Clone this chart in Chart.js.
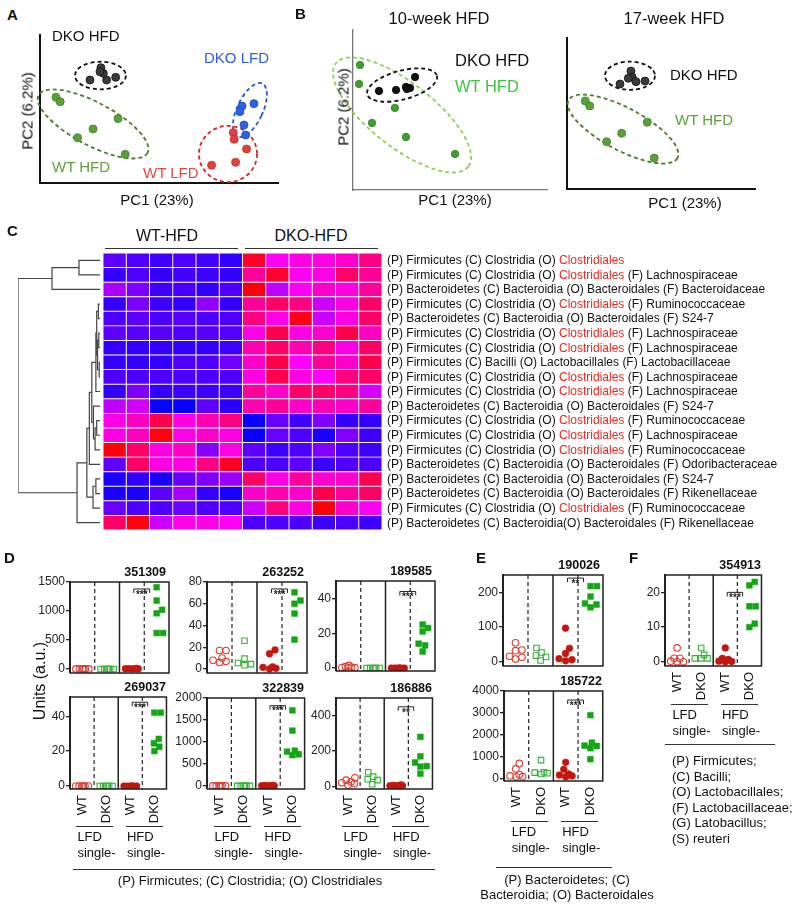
<!DOCTYPE html>
<html>
<head>
<meta charset="utf-8">
<script src="https://cdn.jsdelivr.net/npm/chart.js@4/dist/chart.umd.min.js"></script>
<style>
  html, body { margin: 0; padding: 0; background: #fff; }
  body { width: 800px; height: 907px; position: relative; overflow: hidden;
         font-family: 'Liberation Sans', Arial, Helvetica, sans-serif; color: #111; }
  canvas { position: absolute; }
  .t  { position: absolute; white-space: nowrap; line-height: 1; }
  .v  { writing-mode: vertical-rl; }
  .ln { position: absolute; height: 0; border-top: 1.4px solid #333; }
</style>
</head>
<body>
<script>
// ============================================================
// Microbiota figure — PCA (A, B), heatmap (C), OTU dot plots (D–F)
// ============================================================

// ---- A: PCA, all four groups (PC1, PC2 in arbitrary 0–10 units) ----
const aDkoHfd = [[2.10, 6.96], [2.56, 7.79], [2.66, 7.41], [2.80, 6.96], [3.18, 7.14], [2.52, 7.52]];
const aWtHfd  = [[0.67, 5.79], [0.85, 5.49], [3.28, 4.35], [2.23, 3.65], [1.58, 3.06], [3.58, 1.94]];
const aDkoLfd = [[8.49, 5.20], [8.99, 5.36], [8.40, 4.82], [8.57, 3.92], [8.64, 3.24]];
const aWtLfd  = [[8.12, 3.40], [8.16, 2.95], [8.68, 2.30], [8.22, 1.40], [7.21, 1.20]];

// ---- B: PCA, HFD only, 10 and 17 weeks ----
const b10DkoHfd = [[1.34, 6.19], [2.22, 6.25], [2.73, 6.44], [2.94, 6.38], [3.20, 7.06], [2.78, 6.31]];
const b10WtHfd  = [[0.36, 7.81], [0.31, 6.63], [2.16, 5.13], [0.98, 4.19], [2.73, 3.31], [5.26, 2.25]];
const b17DkoHfd = [[2.82, 6.95], [3.40, 7.81], [3.47, 7.40], [3.67, 7.11], [4.15, 7.15], [3.26, 7.33]];
const b17WtHfd  = [[0.97, 5.83], [1.21, 5.50], [2.91, 3.69], [2.11, 3.13], [4.27, 4.42], [4.64, 2.05]];

// ---- C: heatmap (0 = blue, 0.5 = magenta, 1 = red), rows top to bottom ----
const rowLabels = [
  '(P) Firmicutes (C) Clostridia (O) Clostridiales',
  '(P) Firmicutes (C) Clostridia (O) Clostridiales (F) Lachnospiraceae',
  '(P) Bacteroidetes (C) Bacteroidia (O) Bacteroidales (F) Bacteroidaceae',
  '(P) Firmicutes (C) Clostridia (O) Clostridiales (F) Ruminococcaceae',
  '(P) Bacteroidetes (C) Bacteroidia (O) Bacteroidales (F) S24-7',
  '(P) Firmicutes (C) Clostridia (O) Clostridiales (F) Lachnospiraceae',
  '(P) Firmicutes (C) Clostridia (O) Clostridiales (F) Lachnospiraceae',
  '(P) Firmicutes (C) Bacilli (O) Lactobacillales (F) Lactobacillaceae',
  '(P) Firmicutes (C) Clostridia (O) Clostridiales (F) Lachnospiraceae',
  '(P) Firmicutes (C) Clostridia (O) Clostridiales (F) Lachnospiraceae',
  '(P) Bacteroidetes (C) Bacteroidia (O) Bacteroidales (F) S24-7',
  '(P) Firmicutes (C) Clostridia (O) Clostridiales (F) Ruminococcaceae',
  '(P) Firmicutes (C) Clostridia (O) Clostridiales (F) Lachnospiraceae',
  '(P) Firmicutes (C) Clostridia (O) Clostridiales (F) Ruminococcaceae',
  '(P) Bacteroidetes (C) Bacteroidia (O) Bacteroidales (F) Odoribacteraceae',
  '(P) Bacteroidetes (C) Bacteroidia (O) Bacteroidales (F) S24-7',
  '(P) Bacteroidetes (C) Bacteroidia (O) Bacteroidales (F) Rikenellaceae',
  '(P) Firmicutes (C) Clostridia (O) Clostridiales (F) Ruminococcaceae',
  '(P) Bacteroidetes (C) Bacteroidia(O) Bacteroidales (F) Rikenellaceae',
];
const HIGHLIGHT = 'Clostridiales';

const wtHfdCells = [
  [0.18, 0.15, 0.12, 0.15, 0.13, 0.10],
  [0.10, 0.15, 0.10, 0.13, 0.12, 0.10],
  [0.33, 0.24, 0.12, 0.14, 0.10, 0.15],
  [0.10, 0.24, 0.12, 0.10, 0.28, 0.10],
  [0.15, 0.18, 0.15, 0.17, 0.15, 0.15],
  [0.18, 0.17, 0.17, 0.15, 0.17, 0.16],
  [0.10, 0.10, 0.10, 0.10, 0.10, 0.12],
  [0.10, 0.10, 0.10, 0.15, 0.15, 0.22],
  [0.15, 0.15, 0.15, 0.15, 0.15, 0.15],
  [0.10, 0.25, 0.10, 0.12, 0.12, 0.12],
  [0.37, 0.41, 0.01, 0.01, 0.18, 0.08],
  [0.55, 0.62, 0.85, 0.55, 0.65, 0.75],
  [0.55, 0.62, 0.97, 0.55, 0.60, 0.55],
  [0.98, 0.80, 0.55, 0.62, 0.26, 0.55],
  [0.18, 0.80, 0.55, 0.55, 0.75, 0.93],
  [0.05, 0.10, 0.05, 0.20, 0.25, 0.30],
  [0.05, 0.05, 0.18, 0.33, 0.10, 0.05],
  [0.20, 0.15, 0.15, 0.20, 0.15, 0.15],
  [0.80, 0.97, 0.40, 0.55, 0.55, 0.52],
];
const dkoHfdCells = [
  [0.92, 0.52, 0.55, 0.55, 0.60, 0.75],
  [0.70, 0.90, 0.52, 0.55, 0.80, 0.70],
  [0.98, 0.38, 0.52, 0.60, 0.55, 0.70],
  [0.70, 0.80, 0.75, 0.40, 0.55, 0.80],
  [0.75, 0.55, 0.95, 0.40, 0.55, 0.80],
  [0.55, 0.85, 0.55, 0.60, 0.85, 0.62],
  [0.65, 0.80, 0.65, 0.75, 0.55, 0.80],
  [0.60, 0.85, 0.50, 0.70, 0.60, 0.85],
  [0.55, 0.85, 0.55, 0.50, 0.75, 0.80],
  [0.70, 0.60, 0.80, 0.80, 0.75, 0.42],
  [0.65, 0.70, 0.60, 0.65, 0.60, 0.70],
  [0.02, 0.20, 0.12, 0.25, 0.10, 0.10],
  [0.02, 0.20, 0.15, 0.05, 0.25, 0.12],
  [0.18, 0.12, 0.15, 0.25, 0.15, 0.12],
  [0.15, 0.15, 0.18, 0.12, 0.15, 0.15],
  [0.80, 0.55, 0.70, 0.60, 0.60, 0.85],
  [0.60, 0.65, 0.60, 0.85, 0.70, 0.80],
  [0.40, 0.75, 0.55, 0.98, 0.60, 0.52],
  [0.15, 0.15, 0.15, 0.12, 0.15, 0.12],
];

// dendrogram merges: [childA, childB, height]; leaves are rows 0–18, merges get ids 19, 20, ...
const dendroLinks = [
  [0, 1, 0.256], [19, 2, 0.585],
  [3, 4, 0.02], [5, 6, 0.015], [7, 8, 0.01], [22, 23, 0.03], [21, 24, 0.04], [25, 9, 0.05],
  [11, 12, 0.04], [27, 13, 0.06], [10, 28, 0.08], [26, 29, 0.10], [30, 14, 0.13],
  [15, 16, 0.05], [32, 17, 0.085], [31, 33, 0.16], [34, 18, 0.28],
  [20, 35, 1.0],
];

// ---- D/E/F: OTU abundance, groups = WT LFD, DKO LFD, WT HFD, DKO HFD ----
const GROUP_LABELS = ['WT', 'DKO', 'WT', 'DKO'];
const otu351309 = [[0, 0, 0, 0, 0, 0], [0, 0, 0, 0, 0, 0], [3, 6, 0, 2, 8, 4], [1410, 1180, 1020, 960, 620, 620]];
const otu263252 = [[17, 17, 10, 8, 6, 7], [26, 9.5, 5.5, 3.4, 4.5], [17.5, 14, 2, 0.6, 1.5, 0], [70.5, 63, 60, 51, 27]];
const otu189585 = [[1.5, 0.5, 0, 0.8, 0.2, 0.3], [0, 0, 0, 0, 0, 0], [0, 0, 0, 0, 0, 0], [25, 23, 21, 14, 13, 9.5]];
const otu269037 = [[0, 0, 0, 0, 0, 0], [0, 0, 0, 0, 0, 0], [0, 0, 0, 0, 0, 0], [42, 42, 27, 24.5, 22.5, 20]];
const otu322839 = [[0, 0, 0, 0, 0, 0], [0, 0, 0, 0, 0, 0], [5, 10, 0, 8, 3, 12], [1720, 1260, 800, 780, 720, 700]];
const otu186886 = [[48, 35, 25, 15, 8, 20], [80, 55, 40, 35, 12], [8, 5, 3, 2, 6, 4], [280, 170, 135, 115, 112, 72]];
const otu190026 = [[55, 34, 32, 8, 16, 13], [40, 27, 18, 14, 4], [97, 39, 24, 9, 3, 6], [218, 218, 188, 168, 165, 157]];
const otu185722 = [[710, 460, 200, 110, 140, 100], [860, 310, 290, 230, 260], [760, 440, 230, 140, 180, 100], [2900, 1650, 1520, 1500, 1400, 900]];
const otu354913 = [[4, 1, 1, 0, 0, 0.2], [4, 2, 1, 1, 1], [4, 1, 0.7, 0.2, 0, 0.1], [22, 23, 16, 16, 11, 10]];

// ============================================================
const FONT = "'Liberation Sans', Arial, Helvetica, sans-serif";
Chart.defaults.font.family = FONT;
Chart.defaults.color = '#111';
Chart.defaults.animation = false;
Chart.defaults.responsive = false;
Chart.defaults.events = [];
Chart.defaults.plugins.legend.display = false;
Chart.defaults.plugins.tooltip.enabled = false;

function addCanvas(x, y, w, h) {
  const c = document.createElement('canvas');
  c.width = w; c.height = h;
  Object.assign(c.style, { left: x + 'px', top: y + 'px', width: w + 'px', height: h + 'px' });
  document.body.appendChild(c);
  return c;
}

function addText(txt, x, y, o = {}) {
  const d = document.createElement('div');
  d.className = o.rotate ? 't v' : 't';
  d.textContent = txt;
  d.style.left = x + 'px';
  d.style.top = y + 'px';
  d.style.fontSize = (o.size || 13) + 'px';
  if (o.bold) d.style.fontWeight = 'bold';
  if (o.color) d.style.color = o.color;
  const ax = o.align === 'center' ? '-50%' : o.align === 'right' ? '-100%' : '0';
  // vertical text: written top-down, turned half a turn so it reads bottom-up
  d.style.transform = o.rotate ? 'translate(-50%,-50%) rotate(180deg)' : `translate(${ax},-50%)`;
  document.body.appendChild(d);
}

function addLine(x1, x2, y) {
  const d = document.createElement('div');
  d.className = 'ln';
  Object.assign(d.style, { left: x1 + 'px', top: y + 'px', width: (x2 - x1) + 'px' });
  document.body.appendChild(d);
}

// ---- PCA panels ----

const ellipsePlugin = {
  id: 'ellipses',
  beforeDatasetsDraw(chart, args, opts) {
    const { ctx, scales: { x, y } } = chart;
    const ux = Math.abs(x.getPixelForValue(1) - x.getPixelForValue(0));
    (opts.items || []).forEach(e => {
      ctx.save();
      ctx.beginPath();
      ctx.ellipse(x.getPixelForValue(e.cx), y.getPixelForValue(e.cy), e.rx * ux, e.ry * ux,
                  e.rot * Math.PI / 180, 0, Math.PI * 2);
      ctx.setLineDash([4, 3]);
      ctx.lineWidth = 1.8;
      ctx.strokeStyle = e.color;
      ctx.stroke();
      ctx.restore();
    });
  },
};

function pcaChart(area, groups, ellipses, axis) {
  const pad = { left: 25, top: 10, right: 10, bottom: 10 };
  const [x0, x1, y0, y1] = area;
  const c = addCanvas(x0 - pad.left, y0 - pad.top, x1 - x0 + pad.left + pad.right, y1 - y0 + pad.top + pad.bottom);
  const hidden = {
    min: 0, max: 10,
    ticks: { display: false },
    grid:  { display: false, drawTicks: false },
    border: { color: axis.color, width: axis.width },
  };
  new Chart(c, {
    type: 'scatter',
    data: {
      datasets: groups.map(g => ({
        data: g.pts.map(([x, y]) => ({ x, y })),
        pointRadius: g.r,
        backgroundColor: g.color,
        borderColor: g.edge,
        borderWidth: 0.8,
      })),
    },
    options: {
      layout: { padding: pad },
      plugins: { ellipses: { items: ellipses } },
      scales: {
        x: { ...hidden, afterFit: s => { s.height = 0; } },
        y: { ...hidden, afterFit: s => { s.width = 0; } },
      },
    },
    plugins: [ellipsePlugin],
  });
}

pcaChart([40, 278, 35, 183], [
  { pts: aDkoHfd, color: '#3a3a3a', edge: '#111', r: 4 },
  { pts: aWtHfd,  color: '#5aa13a', edge: '#3f7f25', r: 4 },
  { pts: aDkoLfd, color: '#2e62e6', edge: '#1d47b8', r: 4 },
  { pts: aWtLfd,  color: '#e5403b', edge: '#c22a25', r: 4 },
], [
  { cx: 2.54, cy: 7.26, rx: 1.07, ry: 0.58, rot: 0,  color: '#111' },
  { cx: 2.23, cy: 3.99, rx: 2.59, ry: 0.90, rot: 28, color: '#4f7a2c' },
  { cx: 8.82, cy: 4.93, rx: 0.54, ry: 1.23, rot: 25, color: '#2255dd' },
  { cx: 7.90, cy: 1.96, rx: 1.22, ry: 1.18, rot: 0,  color: '#e02020' },
], { color: '#111', width: 2 });

pcaChart([353, 547, 30, 190], [
  { pts: b10WtHfd,  color: '#3f9e2f', edge: '#2f7d22', r: 3.7 },
  { pts: b10DkoHfd, color: '#111',    edge: '#000',    r: 3.7 },
], [
  { cx: 2.53, cy: 4.69, rx: 4.33, ry: 1.65, rot: 38,  color: '#8fd050' },
  { cx: 2.53, cy: 6.56, rx: 1.86, ry: 0.74, rot: -15, color: '#111' },
], { color: '#777', width: 1.3 });

pcaChart([567, 755, 38, 189], [
  { pts: b17DkoHfd, color: '#3a3a3a', edge: '#111',    r: 4 },
  { pts: b17WtHfd,  color: '#5aa13a', edge: '#3f7f25', r: 4 },
], [
  { cx: 3.35, cy: 7.50, rx: 1.33, ry: 0.75, rot: 0,  color: '#111' },
  { cx: 2.98, cy: 3.97, rx: 3.28, ry: 1.13, rot: 28, color: '#4f7a2c' },
], { color: '#111', width: 2 });

addText('A', 7, 14, { size: 15, bold: true });
addText('DKO HFD', 52, 35, { size: 15 });
addText('DKO LFD', 204, 57, { size: 15, color: '#2d5fe0' });
addText('WT HFD', 52, 166, { size: 15, color: '#5da23b' });
addText('WT LFD', 143, 172, { size: 15, color: '#e8453c' });
addText('PC1 (23%)', 157, 199, { size: 15, align: 'center' });
addText('PC2 (6.2%)', 27, 111, { size: 15, rotate: true });

addText('B', 295, 13, { size: 15, bold: true });
addText('10-week HFD', 439, 18, { size: 16.5, align: 'center' });
addText('17-week HFD', 674, 18, { size: 16.5, align: 'center' });
addText('DKO HFD', 455, 60, { size: 16.5 });
addText('WT HFD', 455, 86, { size: 16.5, color: '#3ec43e' });
addText('PC1 (23%)', 455, 199, { size: 15, align: 'center' });
addText('PC2 (6.2%)', 343, 107, { size: 15, rotate: true });
addText('DKO HFD', 670, 74, { size: 15 });
addText('WT HFD', 675, 119, { size: 15, color: '#5da23b' });
addText('PC1 (23%)', 685, 202, { size: 15, align: 'center' });

// ---- C: heatmap + dendrogram ----

function heatColor(t) {
  const r = t < 0.5 ? Math.round(510 * t) : 255;
  const b = t < 0.5 ? 255 : Math.round(510 * (1 - t));
  return `rgb(${r},0,${b})`;
}

const rowLabelPlugin = {
  id: 'rowLabels',
  afterDraw(chart) {
    const { ctx, chartArea: a, scales: { y } } = chart;
    ctx.save();
    ctx.font = `12px ${FONT}`;
    ctx.textBaseline = 'middle';
    rowLabels.forEach((lab, i) => {
      const py = y.getPixelForValue(i) + 0.5;
      let px = a.right + 5;
      lab.split(HIGHLIGHT).forEach((part, k, arr) => {
        ctx.fillStyle = '#111';
        ctx.fillText(part, px, py);
        px += ctx.measureText(part).width;
        if (k < arr.length - 1) {
          ctx.fillStyle = '#e8281e';
          ctx.fillText(HIGHLIGHT, px, py);
          px += ctx.measureText(HIGHLIGHT).width;
        }
      });
    });
    ctx.restore();
  },
};

const cells = rowLabels.map((_, i) => wtHfdCells[i].concat(dkoHfdCells[i]));
const heatCanvas = addCanvas(103, 245, 697, 295);
new Chart(heatCanvas, {
  type: 'bar',
  data: {
    labels: rowLabels.map((_, i) => i),
    datasets: cells[0].map((_, j) => ({
      data: cells.map(() => 1),
      backgroundColor: cells.map(r => heatColor(r[j])),
      borderColor: '#fff',
      borderWidth: 0.8,
      borderSkipped: false,
      barPercentage: 1,
      categoryPercentage: 1,
    })),
  },
  options: {
    indexAxis: 'y',
    layout: { padding: { left: 0, top: 8, right: 418, bottom: 10 } },
    scales: {
      x: { stacked: true, min: 0, max: 12, display: false },
      y: { stacked: true, display: false },
    },
  },
  plugins: [rowLabelPlugin],
});

function dendroSegments() {
  const nodes = rowLabels.map((_, i) => ({ y: i, h: 0 }));
  return dendroLinks.map(([a, b, h]) => {
    const A = nodes[a], B = nodes[b];
    nodes.push({ y: (A.y + B.y) / 2, h });
    return [{ x: A.h, y: A.y }, { x: h, y: A.y }, { x: h, y: B.y }, { x: B.h, y: B.y }];
  });
}

new Chart(addCanvas(12, 245, 94, 295), {
  type: 'scatter',
  data: {
    datasets: dendroSegments().map(seg => ({
      data: seg, showLine: true, pointRadius: 0, borderColor: '#444', borderWidth: 1.2,
    })),
  },
  options: {
    layout: { padding: { left: 6, top: 8, right: 6, bottom: 10 } },
    scales: {
      x: { min: 0, max: 1, reverse: true, display: false },
      y: { min: -0.5, max: rowLabels.length - 0.5, reverse: true, display: false },
    },
  },
});

addText('C', 7, 230, { size: 15, bold: true });
addText('WT-HFD', 167, 236, { size: 16, align: 'center' });
addText('DKO-HFD', 311, 236, { size: 16, align: 'center' });
addLine(105, 238, 248);
addLine(245, 378, 248);

// ---- D/E/F: dot plots ----

const MARKERS = [
  { shape: 'circle', r: 3.3, fill: 'rgba(0,0,0,0)', line: '#e23a2e', w: 1.1 },
  { shape: 'rect',   r: 3.9, fill: 'rgba(0,0,0,0)', line: '#33b233', w: 1.1 },
  { shape: 'circle', r: 3.4, fill: '#c4160e',       line: '#c4160e', w: 0.5 },
  { shape: 'rect',   r: 4.1, fill: '#12a612',       line: '#12a612', w: 0.5 },
];
const DIVIDERS = [{ at: 1 }, { at: 2, solid: true }, { at: 3 }];

// beeswarm: nudge each point sideways (in px) until it clears the ones already placed
function swarm(vals, cx, pxX, pxY) {
  const D = 6.5, LIMIT = 7;
  const placed = [];
  vals.slice().sort((a, b) => a - b).forEach(v => {
    const py = v * pxY;
    let best = 0, bestGap = -1;
    for (let k = 0; Math.ceil(k / 2) * 0.5 <= LIMIT; k++) {
      const off = (k % 2 ? 1 : -1) * Math.ceil(k / 2) * 0.5;
      const gap = placed.reduce((m, p) => Math.min(m, Math.hypot(p.dx - off, p.py - py)), Infinity);
      if (gap >= D) { best = off; break; }
      if (gap > bestGap + 1e-6) { bestGap = gap; best = off; }
    }
    placed.push({ dx: best, py, v });
  });
  return placed.map(p => ({ x: cx + p.dx / pxX, y: p.v }));
}

const framePlugin = {
  id: 'frame',
  beforeDatasetsDraw(chart) {
    const { ctx, chartArea: a, scales: { x } } = chart;
    ctx.save();
    ctx.strokeStyle = '#222';
    DIVIDERS.forEach(d => {
      const px = x.getPixelForValue(d.at);
      ctx.beginPath();
      ctx.lineWidth = d.solid ? 1.5 : 1.2;
      ctx.setLineDash(d.solid ? [] : [4, 3]);
      ctx.moveTo(px, a.top);
      ctx.lineTo(px, a.bottom);
      ctx.stroke();
    });
    ctx.restore();
  },
  afterDatasetsDraw(chart, args, opts) {
    const { ctx, chartArea: a, scales: { x, y } } = chart;
    ctx.save();
    ctx.strokeStyle = '#222';
    ctx.lineWidth = 1.5;
    ctx.beginPath();
    ctx.moveTo(a.left, a.top);
    ctx.lineTo(a.right, a.top);
    ctx.lineTo(a.right, a.bottom);
    ctx.lineTo(a.left, a.bottom);
    ctx.stroke();
    if (opts.sig) {
      const xa = x.getPixelForValue(2.58), xb = x.getPixelForValue(3.22), yy = y.getPixelForValue(opts.sigAt);
      ctx.lineWidth = 1;
      ctx.beginPath();
      ctx.moveTo(xa, yy + 4); ctx.lineTo(xa, yy); ctx.lineTo(xb, yy); ctx.lineTo(xb, yy + 4);
      ctx.stroke();
      ctx.fillStyle = '#222';
      ctx.font = `bold 10px ${FONT}`;
      ctx.textAlign = 'center';
      ctx.textBaseline = 'top';
      ctx.fillText(opts.sig, (xa + xb) / 2, yy + 1);
    }
    ctx.restore();
  },
};

function dotPlot(p) {
  const [x0, x1, y0, y1] = p.box;
  const pad = { left: 0, top: 12, right: 8, bottom: 10 };
  const yAxisW = 42, xAxisH = p.xLabels ? 40 : 0;
  const canvas = addCanvas(x0 - yAxisW, y0 - pad.top, yAxisW + (x1 - x0) + pad.right,
                           pad.top + (y1 - y0) + xAxisH + pad.bottom);
  const pxX = (x1 - x0) / 4;
  const pxY = (y1 - y0) / (p.max - p.min);

  new Chart(canvas, {
    type: 'scatter',
    data: {
      datasets: p.data.map((vals, g) => ({
        data: swarm(vals, g + 0.5, pxX, pxY),
        pointStyle: MARKERS[g].shape,
        pointRadius: MARKERS[g].r,
        backgroundColor: MARKERS[g].fill,
        borderColor: MARKERS[g].line,
        borderWidth: MARKERS[g].w,
      })),
    },
    options: {
      layout: { padding: pad },
      plugins: { frame: { sig: p.sig, sigAt: p.sigAt } },
      scales: {
        x: {
          min: 0, max: 4,
          display: !!p.xLabels,
          afterBuildTicks: ax => { ax.ticks = GROUP_LABELS.map((_, i) => ({ value: i + 0.5 })); },
          afterFit: s => { s.height = xAxisH; },
          ticks: {
            autoSkip: false, minRotation: 90, maxRotation: 90, padding: 6,
            font: { size: 13 }, color: '#111',
            callback: (v, i) => GROUP_LABELS[i],
          },
          grid:   { display: false, drawTicks: false },
          border: { display: false },
        },
        y: {
          min: p.min, max: p.max,
          afterFit: s => { s.width = yAxisW; },
          // ticks from 0 up to the top of the axis, one per step
          afterBuildTicks: ax => {
            const t = [];
            for (let v = 0; v <= p.max + 1e-9; v += p.step) t.push({ value: v });
            ax.ticks = t;
          },
          ticks: { padding: 1, font: { size: 12 }, color: '#222', callback: v => String(v) },
          grid:   { drawOnChartArea: false, drawTicks: true, tickLength: 4, color: '#222', lineWidth: 1.3 },
          border: { color: '#222', width: 2 },
        },
      },
    },
    plugins: [framePlugin],
  });

  addText(p.title, x1 - 3, y0 - 10, { size: 12.5, bold: true, align: 'right' });

  if (p.groupLineY) {
    const c = i => x0 + pxX * (i + 0.5);
    addLine(c(0) - 6, c(1) + 6, p.groupLineY);
    addLine(c(2) - 6, c(3) + 6, p.groupLineY);
    addText('LFD', c(0) - 5, p.groupLineY + 10, { size: 13 });
    addText('single-', c(0) - 5, p.groupLineY + 26, { size: 13 });
    addText('HFD', c(2) - 5, p.groupLineY + 10, { size: 13 });
    addText('single-', c(2) - 5, p.groupLineY + 26, { size: 13 });
  }
}

dotPlot({ title: '351309', data: otu351309, box: [70, 169, 582, 673], min: -70,  max: 1500, step: 500, sig: '***', sigAt: 1380 });
dotPlot({ title: '263252', data: otu263252, box: [207, 307, 582, 673], min: -3.7, max: 80,   step: 20,  sig: '***', sigAt: 73.6 });
dotPlot({ title: '189585', data: otu189585, box: [336, 435, 581, 671], min: -1.7, max: 50,   step: 20,  sig: '***', sigAt: 44 });
dotPlot({ title: '269037', data: otu269037, box: [70, 169, 697, 789], min: -1.7, max: 51,   step: 20,  sig: '***', sigAt: 48,   xLabels: true, groupLineY: 826 });
dotPlot({ title: '322839', data: otu322839, box: [207, 307, 698, 789], min: -70,  max: 2000, step: 500, sig: '***', sigAt: 1825, xLabels: true, groupLineY: 826 });
dotPlot({ title: '186886', data: otu186886, box: [336, 435, 698, 789], min: -15,  max: 500,  step: 200, sig: '**',  sigAt: 450,  xLabels: true, groupLineY: 826 });
dotPlot({ title: '190026', data: otu190026, box: [503, 603, 575, 666], min: -12,  max: 250,  step: 100, sig: '**',  sigAt: 241 });
dotPlot({ title: '185722', data: otu185722, box: [504, 605, 691, 781], min: -90,  max: 4000, step: 1000, sig: '***', sigAt: 3590, xLabels: true, groupLineY: 821 });
dotPlot({ title: '354913', data: otu354913, box: [665, 764, 575, 666], min: -1.2, max: 25,   step: 10,  sig: '***', sigAt: 20,   xLabels: true, groupLineY: 704 });

addText('D', 4, 557, { size: 15, bold: true });
addText('Units (a.u.)', 40, 681, { size: 16, rotate: true });
addLine(73, 435, 869);
addText('(P) Firmicutes; (C) Clostridia; (O) Clostridiales', 250, 880, { size: 13, align: 'center' });

addText('E', 476, 557, { size: 15, bold: true });
addLine(496, 612, 867);
addText('(P) Bacteroidetes; (C)', 567, 879, { size: 13, align: 'center' });
addText('Bacteroidia; (O) Bacteroidales', 567, 894, { size: 13, align: 'center' });

addText('F', 629, 557, { size: 15, bold: true });
addLine(665, 775, 744);
['(P) Firmicutes;', '(C) Bacilli;', '(O) Lactobacillales;', '(F) Lactobacillaceae;', '(G) Latobacillus;', '(S) reuteri']
  .forEach((s, i) => addText(s, 672, 760 + i * 15.5, { size: 13 }));
</script>
</body>
</html>
